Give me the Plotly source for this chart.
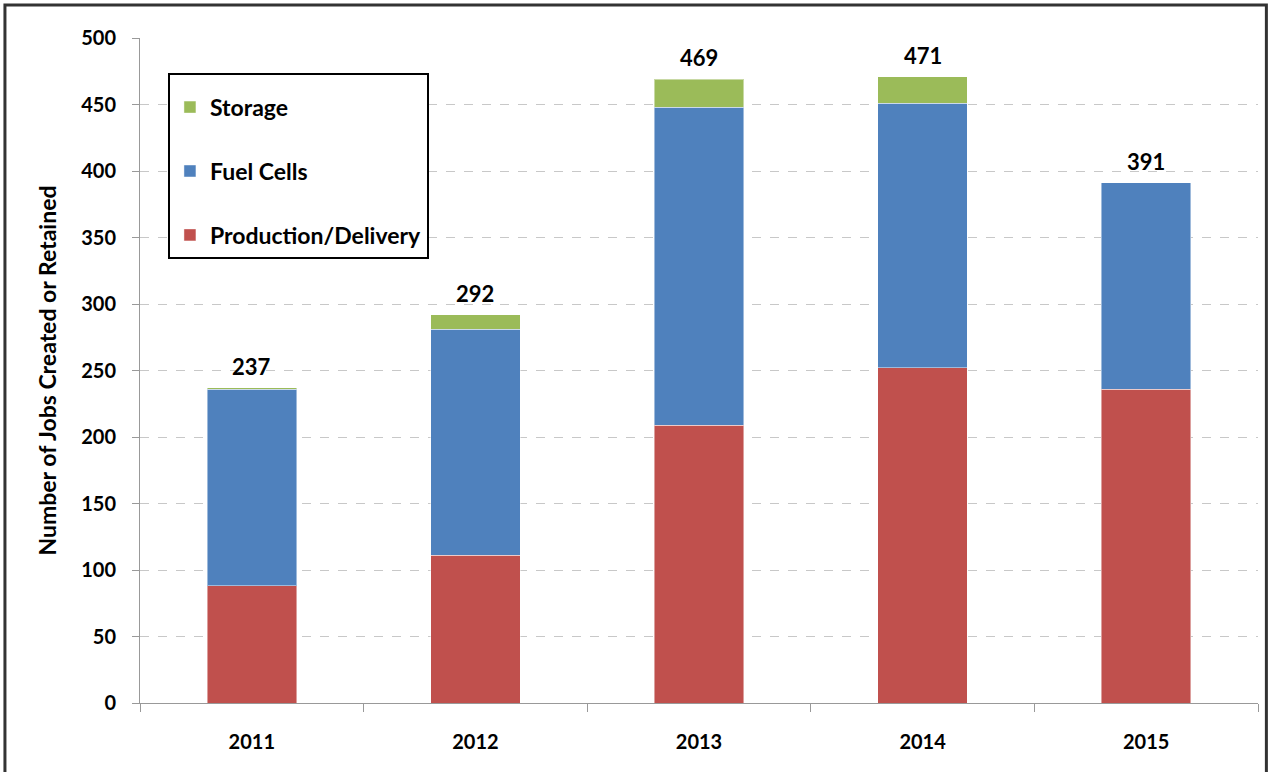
import plotly.graph_objects as go

years = ["2011", "2012", "2013", "2014", "2015"]
production = [88, 111, 209, 252, 236]
fuel_cells = [148, 170, 239, 199, 155]
storage = [1, 11, 21, 20, 0]
totals = [237, 292, 469, 471, 391]
y_ticks = [0, 50, 100, 150, 200, 250, 300, 350, 400, 450, 500]

FONT = "Lato"
fig = go.Figure()
series = [
    ("Production/Delivery", production, "#C0504D", 3),
    ("Fuel Cells", fuel_cells, "#4F81BD", 2),
    ("Storage", storage, "#9BBB59", 1),
]
for name, vals, col, rank in series:
    fig.add_trace(go.Bar(
        x=years, y=vals, name=name, legendgroup=name, legendrank=rank,
        marker=dict(color=col, line=dict(color="rgba(255,255,255,0.45)", width=1)),
    ))

for i, t in enumerate(totals):
    fig.add_annotation(x=i, y=t, xref="x", yref="y", text=str(t), showarrow=False,
                       yanchor="bottom", yshift=6,
                       font=dict(family=FONT, size=22, color="#000", weight="bold"))

fig.add_shape(type="rect", xref="paper", yref="paper", x0=-0.1208, x1=1.0075,
              y0=-0.15, y1=1.0496, line=dict(color="#333", width=3), fillcolor="rgba(0,0,0,0)")

fig.update_layout(
    width=1272, height=772,
    margin=dict(l=140, r=14, t=38, b=69, autoexpand=False),
    paper_bgcolor="white", plot_bgcolor="white",
    barmode="stack", bargap=0.6,
    font=dict(family=FONT, color="#000"),
    legend=dict(
        x=0.025, y=0.947, xanchor="left", yanchor="top",
        traceorder="grouped", tracegroupgap=31,
        bordercolor="#000", borderwidth=2, bgcolor="white",
        font=dict(family=FONT, size=23, weight="bold"),
        title=dict(text=" ", font=dict(size=8)),
        itemwidth=30,
    ),
    xaxis=dict(
        type="category", tickson="boundaries", ticks="outside", ticklen=8,
        tickcolor="#999", showline=True, linecolor="#999", linewidth=1,
        tickfont=dict(family=FONT, size=20, weight="bold"), tickangle=0,
        ticklabelstandoff=21, showgrid=False, automargin=False,
        range=[-0.5, 4.5],
    ),
    yaxis=dict(
        range=[0, 500], tickvals=y_ticks, ticks="outside", ticklen=7,
        tickcolor="#999", showline=True, linecolor="#999", linewidth=1,
        showgrid=True, gridcolor="#c8c8c8", griddash="dash", gridwidth=1,
        zeroline=False, automargin=False,
        tickfont=dict(family=FONT, size=20, weight="bold"),
        ticklabelstandoff=12,
        title=dict(text="Number of Jobs Created or Retained",
                   font=dict(family=FONT, size=23, weight="bold"), standoff=18),
    ),
)

fig.write_html("out.html", config={"displayModeBar": False},
               post_script="document.body.style.margin='0';")
